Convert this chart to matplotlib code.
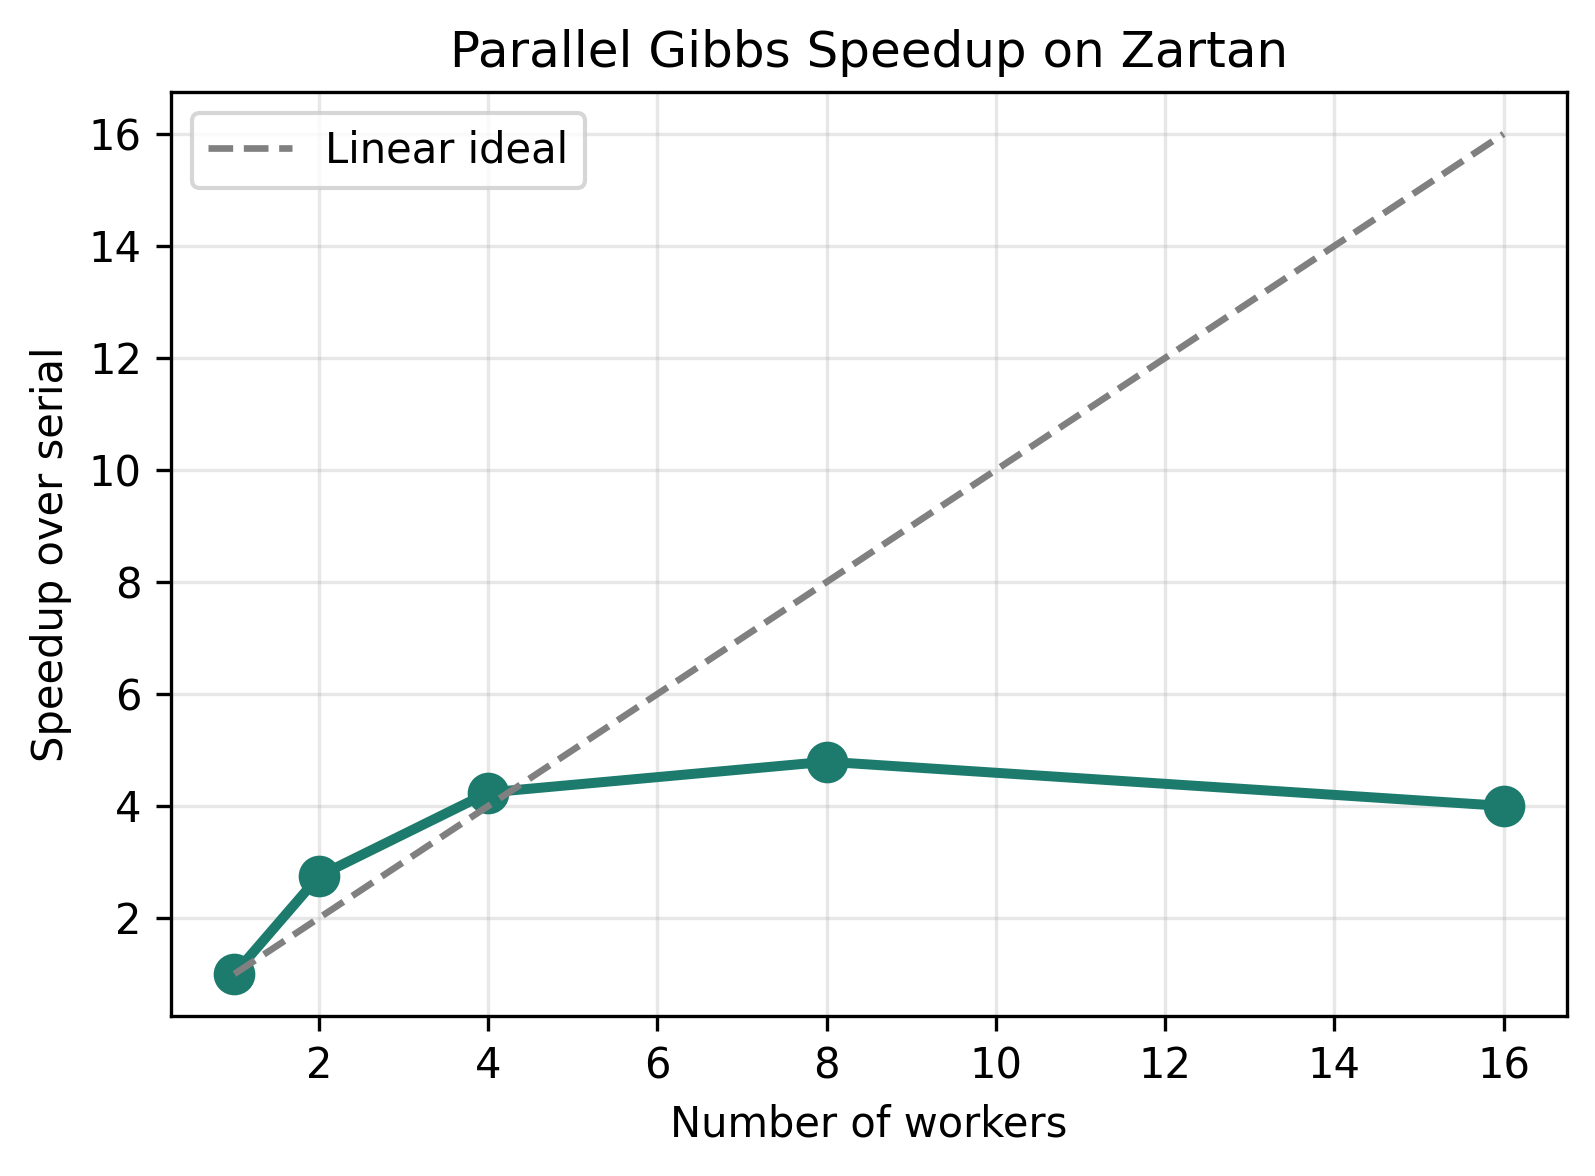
import matplotlib
matplotlib.use("Agg")
import matplotlib.pyplot as plt

workers = [1, 2, 4, 8, 16]
speedup = [1.0, 2.75, 4.24, 4.79, 4.0]
ideal = [1, 2, 4, 8, 16]

fig, ax = plt.subplots(figsize=(5.317, 3.92), dpi=300)
ax.plot(workers, speedup, '-o', color='#1c7b6d', linewidth=2.4, markersize=9, zorder=2)
ax.plot(workers, ideal, '--', color='gray', linewidth=1.6, label='Linear ideal', zorder=3)
ax.set_xlabel('Number of workers')
ax.set_ylabel('Speedup over serial')
ax.set_title('Parallel Gibbs Speedup on Zartan')
ax.grid(True, alpha=0.3)
ax.legend(loc='upper left')
fig.subplots_adjust(left=0.1072, right=0.9824, top=0.9218, bottom=0.1361)
fig.savefig('out.png', dpi=300)
